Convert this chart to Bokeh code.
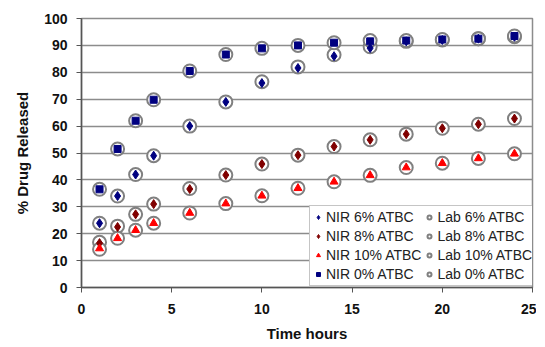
from bokeh.plotting import figure
from bokeh.models import Legend, LegendItem, Range1d, FixedTicker
from bokeh.embed import file_html
from bokeh.resources import INLINE

t = [1, 2, 3, 4, 6, 8, 10, 12, 14, 16, 18, 20, 22, 24]

nir_6 = [23.9, 34.0, 42.0, 49.0, 60.0, 69.0, 76.0, 81.6, 86.0, 89.0, 91.5, 92.0, 92.5, 93.2]
nir_8 = [16.5, 22.5, 27.2, 31.0, 36.6, 41.8, 45.9, 49.2, 52.4, 54.9, 57.0, 59.2, 60.7, 62.8]
nir_10 = [14.5, 18.3, 21.3, 23.9, 27.7, 31.2, 34.1, 36.9, 39.3, 41.7, 44.6, 46.2, 48.0, 49.7]
nir_0 = [36.5, 51.5, 62.0, 69.8, 80.5, 86.6, 88.9, 90.0, 91.0, 91.5, 91.8, 92.2, 92.5, 93.5]

lab_6 = [23.9, 34.0, 42.0, 49.0, 60.0, 69.0, 76.5, 82.0, 86.5, 89.5, 91.5, 92.0, 92.5, 93.2]
lab_8 = [16.8, 22.8, 27.2, 31.0, 36.8, 41.8, 45.9, 49.2, 52.4, 54.9, 57.0, 59.2, 60.7, 62.8]
lab_10 = [14.2, 18.3, 21.3, 23.9, 27.7, 31.2, 34.1, 36.9, 39.3, 41.7, 44.6, 46.2, 48.0, 49.7]
lab_0 = [36.5, 51.5, 62.0, 69.8, 80.5, 86.6, 88.9, 90.0, 91.0, 91.8, 91.8, 92.2, 92.5, 93.5]

x_ticks = [0, 5, 10, 15, 20, 25]
y_ticks = [0, 10, 20, 30, 40, 50, 60, 70, 80, 90, 100]

p = figure(width=536, height=346, output_backend="svg", toolbar_location=None,
           x_range=Range1d(0, 25), y_range=Range1d(0, 100),
           min_border_left=81, min_border_right=4, min_border_top=18, min_border_bottom=59)

p.outline_line_color = "#8c8c8c"
p.outline_line_width = 1.5
p.xgrid.grid_line_color = None
p.ygrid.grid_line_color = "#8c8c8c"
p.ygrid.grid_line_width = 1.5
p.xaxis.ticker = FixedTicker(ticks=x_ticks)
p.yaxis.ticker = FixedTicker(ticks=y_ticks)
for ax in (p.xaxis, p.yaxis):
    ax.axis_line_color = "#555555"
    ax.axis_line_width = 1.5
    ax.major_tick_line_color = "#555555"
    ax.major_tick_out = 5
    ax.major_tick_in = 0
    ax.minor_tick_line_color = None
    ax.major_label_text_font = "Liberation Sans"
    ax.major_label_text_font_style = "bold"
    ax.major_label_text_font_size = "14px"
    ax.major_label_text_color = "#111111"
    ax.axis_label_text_font = "Liberation Sans"
    ax.axis_label_text_font_style = "bold"
    ax.axis_label_text_font_size = "15px"
    ax.axis_label_text_color = "#111111"
p.xaxis.axis_label = "Time hours"
p.yaxis.axis_label = "% Drug Released"
p.xaxis.major_label_standoff = 11
p.xaxis.axis_label_standoff = 8
p.yaxis.major_label_standoff = 9
p.yaxis.axis_label_standoff = 10

circ = dict(size=13, line_color="#808080", line_width=2, fill_color="white")
r_l6 = p.scatter(t, lab_6, marker="circle", **circ)
r_l8 = p.scatter(t, lab_8, marker="circle", **circ)
r_l10 = p.scatter(t, lab_10, marker="circle", **circ)
r_l0 = p.scatter(t, lab_0, marker="circle", **circ)

r_n0 = p.scatter(t, nir_0, marker="square", size=7, color="#000080")
r_n6 = p.scatter(t, nir_6, marker="diamond", size=9, color="#000080")
r_n8 = p.scatter(t, nir_8, marker="diamond", size=9, color="#800000")
r_n10 = p.scatter(t, nir_10, marker="triangle", size=8, color="#ff0000")

items = [
    LegendItem(label="NIR 6% ATBC", renderers=[r_n6]),
    LegendItem(label="NIR 8% ATBC", renderers=[r_n8]),
    LegendItem(label="NIR 10% ATBC", renderers=[r_n10]),
    LegendItem(label="NIR 0% ATBC", renderers=[r_n0]),
    LegendItem(label="Lab 6% ATBC", renderers=[r_l6]),
    LegendItem(label="Lab 8% ATBC", renderers=[r_l8]),
    LegendItem(label="Lab 10% ATBC", renderers=[r_l10]),
    LegendItem(label="Lab 0% ATBC", renderers=[r_l0]),
]
legend = Legend(items=items, location=(228, 1), ncols=2,
                label_text_font="Liberation Sans", label_text_font_size="14px",
                label_text_color="#222222", glyph_width=10, glyph_height=12,
                label_height=14, label_standoff=3, spacing=3, padding=3, margin=0,
                border_line_color="#8c8c8c", border_line_width=1.5,
                background_fill_color="white", background_fill_alpha=1.0)
p.add_layout(legend)

open("out.html", "w").write(file_html(p, INLINE))
